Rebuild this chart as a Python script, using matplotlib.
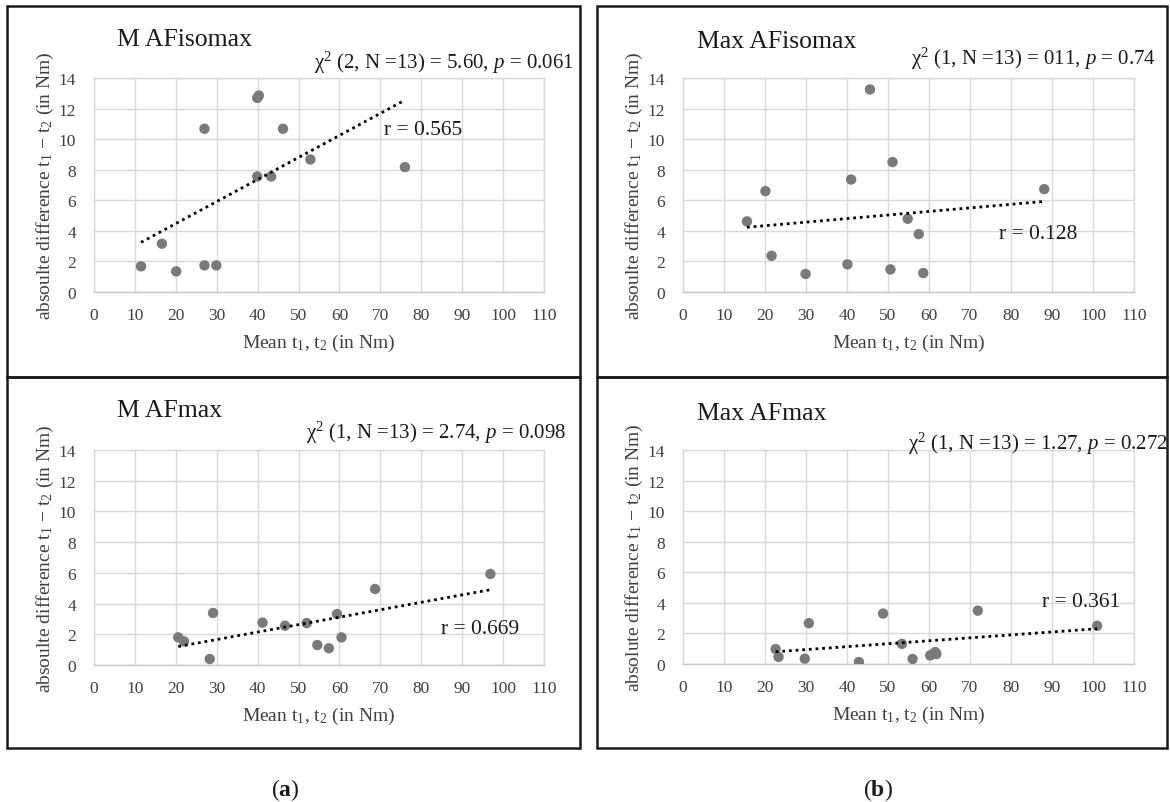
import numpy as np
import matplotlib
matplotlib.use("Agg")
import matplotlib.pyplot as plt
from matplotlib.patches import Rectangle

plt.rcParams["font.family"] = ["Liberation Serif", "DejaVu Serif"]
plt.rcParams["mathtext.fontset"] = "custom"
plt.rcParams["mathtext.rm"] = "Liberation Serif"
plt.rcParams["mathtext.it"] = "Liberation Serif:italic"
plt.rcParams["mathtext.bf"] = "Liberation Serif:bold"

# ---- data: mean of t1,t2 (Nm) vs absolute difference t1 - t2 (Nm) ----
m_afisomax_mean = [11.5, 16.6, 20.1, 27.0, 29.9, 27.0, 39.9, 40.3, 39.9, 43.3, 46.2, 52.9, 76.0]
m_afisomax_diff = [1.68, 3.16, 1.35, 1.74, 1.74, 10.68, 12.70, 12.85, 7.56, 7.56, 10.68, 8.67, 8.17]

max_afisomax_mean = [15.6, 20.1, 21.6, 29.9, 40.1, 41.0, 45.6, 50.6, 51.1, 54.8, 57.5, 58.6, 88.1]
max_afisomax_diff = [4.62, 6.60, 2.37, 1.18, 1.81, 7.36, 13.25, 1.48, 8.50, 4.79, 3.79, 1.24, 6.73]

m_afmax_mean = [20.6, 22.0, 28.3, 29.1, 41.2, 46.7, 52.0, 54.6, 57.4, 59.4, 60.5, 68.7, 96.9]
m_afmax_diff = [1.80, 1.54, 0.39, 3.39, 2.76, 2.56, 2.73, 1.30, 1.09, 3.32, 1.80, 4.95, 5.93]

max_afmax_mean = [22.6, 23.3, 29.7, 30.7, 42.9, 48.8, 53.4, 56.0, 60.3, 61.5, 61.8, 71.9, 101.0]
max_afmax_diff = [0.98, 0.46, 0.35, 2.67, 0.13, 3.30, 1.32, 0.33, 0.56, 0.78, 0.65, 3.49, 2.50]

titles = ["M AFisomax", "Max AFisomax", "M AFmax", "Max AFmax"]
stats = [
    r"χ$^2$ (2, N =13) = 5.60, $p$ = 0.061",
    r"χ$^2$ (1, N =13) = 011, $p$ = 0.74",
    r"χ$^2$ (1, N =13) = 2.74, $p$ = 0.098",
    r"χ$^2$ (1, N =13) = 1.27, $p$ = 0.272",
]
r_labels = ["r = 0.565", "r = 0.128", "r = 0.669", "r = 0.361"]
ylabels = [
    "absoulte difference t$_1$ − t$_2$ (in Nm)",
    "absoulte difference t$_1$ − t$_2$ (in Nm)",
    "absoulte difference t$_1$ − t$_2$ (in Nm)",
    "absolute difference t$_1$ − t$_2$ (in Nm)",
]
xlabel = "Mean t$_1$, t$_2$ (in Nm)"
x_ticks = list(range(0, 111, 10))
y_ticks = list(range(0, 15, 2))
panel_tags = ["a", "b"]

series = [
    (m_afisomax_mean, m_afisomax_diff),
    (max_afisomax_mean, max_afisomax_diff),
    (m_afmax_mean, m_afmax_diff),
    (max_afmax_mean, max_afmax_diff),
]

# ---- layout (pixel geometry of the 1170 x 803 canvas) ----
W, H = 1170, 803
fig = plt.figure(figsize=(W / 100, H / 100), dpi=100)
fig.patch.set_facecolor("white")


def fx(px):
    return px / W


def fy(py):
    return 1 - py / H


# plot areas: (left, right, top, bottom) in px
plot_boxes = [(94, 544, 79, 293), (683, 1134, 79, 293),
              (94, 544, 451, 666), (683, 1134, 451, 665)]
# outer frames: (left, right, top, bottom)
frames = [(7, 580, 7, 378), (597, 1167, 7, 378),
          (7, 580, 378, 749), (597, 1167, 378, 749)]
title_pos = [(117, 40), (697, 42), (117, 411), (697, 414)]
stat_pos = [(574, 63), (1156, 59), (566, 433), (1167, 444)]
r_pos = [(71.0, 10.6), (77.1, 3.8), (84.8, 2.35), (87.6, 4.1)]

for (l, r, t, b) in frames:
    fig.patches.append(Rectangle((fx(l), fy(b)), fx(r) - fx(l), fy(t) - fy(b),
                                 transform=fig.transFigure, fill=False,
                                 edgecolor="#1a1a1a", linewidth=1.8, zorder=0))

grid_c = "#d9d9d9"
for i, (xs, ys) in enumerate(series):
    l, r, t, b = plot_boxes[i]
    ax = fig.add_axes([fx(l), fy(b), fx(r) - fx(l), fy(t) - fy(b)])
    ax.set_xlim(0, 110)
    ax.set_ylim(0, 14)
    ax.set_xticks(x_ticks)
    ax.set_yticks(y_ticks)
    ax.grid(True, color=grid_c, linewidth=1.0)
    ax.set_axisbelow(True)
    for sp in ax.spines.values():
        sp.set_color(grid_c)
        sp.set_linewidth(1.0)
    ax.spines["bottom"].set_color("#c8c8c8")
    ax.tick_params(length=0, labelsize=12.5, labelcolor="#404040")
    ax.tick_params(axis="x", pad=11)
    ax.tick_params(axis="y", pad=13)

    xs_a = np.asarray(xs)
    ys_a = np.asarray(ys)
    ax.scatter(xs_a, ys_a, s=56, color="#7a7a7a", edgecolors="none", zorder=3)

    # linear trend line over the data range
    k, c = np.polyfit(xs_a, ys_a, 1)
    xx = np.array([xs_a.min(), xs_a.max()])
    ax.plot(xx, k * xx + c, color="black", linewidth=2.0,
            linestyle=(0, (1, 1.4)), zorder=4)

    ax.text(r_pos[i][0], r_pos[i][1], r_labels[i], fontsize=15.5,
            ha="left", va="center", color="#1a1a1a")

    ax.set_xlabel(xlabel, fontsize=14, color="#404040")
    ax.xaxis.set_label_coords(0.5, -0.234)
    ax.xaxis.label.set_verticalalignment("center")
    ax.set_ylabel(ylabels[i], fontsize=14, color="#404040")
    ax.yaxis.set_label_coords(-0.107, 0.5)
    ax.yaxis.label.set_verticalalignment("center")

    fig.text(fx(title_pos[i][0]), fy(title_pos[i][1]), titles[i], fontsize=18.5,
             ha="left", va="center", color="#1a1a1a")
    fig.text(fx(stat_pos[i][0]), fy(stat_pos[i][1]), stats[i], fontsize=15,
             ha="right", va="center", color="#1a1a1a")

for tag, x in zip(panel_tags, [285, 878]):
    fig.text(fx(x), fy(790), "(" + r"$\mathbf{" + tag + "}$" + ")",
             fontsize=17, ha="center", va="center", color="#1a1a1a")

fig.savefig("out.png", dpi=100, facecolor="white")
